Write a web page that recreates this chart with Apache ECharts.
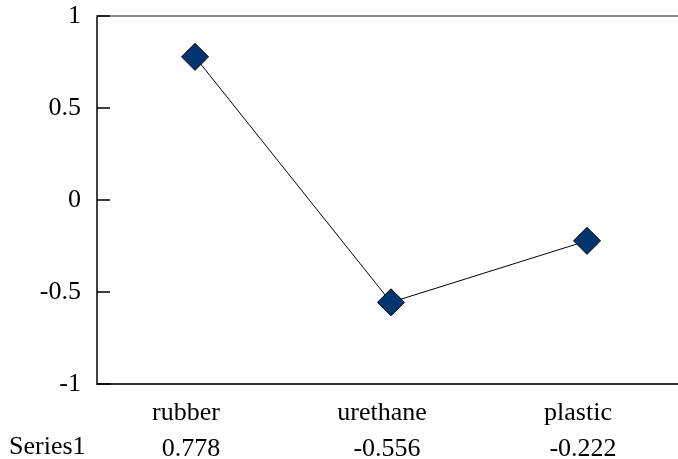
<!DOCTYPE html>
<html>
<head>
<meta charset="utf-8">
<script src="https://cdn.jsdelivr.net/npm/echarts@6/dist/echarts.min.js"></script>
<style>
  html, body { margin: 0; padding: 0; background: #ffffff; }
  #chart { width: 678px; height: 459px; }
</style>
</head>
<body>
<div id="chart"></div>
<script>
// Categories, the single series and the y-axis scale
const categories = ['rubber', 'urethane', 'plastic'];
const seriesName = 'Series1';
const seriesValues = [0.778, -0.556, -0.222];
const yMin = -1;
const yMax = 1;
const yStep = 0.5;

const FONT = '"Liberation Serif", "Times New Roman", serif';
const FS = 26;

// Value row under the category labels (data table)
const valueLabels = seriesValues.map(v => String(v));

const chart = echarts.init(document.getElementById('chart'), null, { renderer: 'canvas' });

chart.setOption({
  animation: false,
  backgroundColor: '#ffffff',
  grid: {
    left: 97, width: 588, top: 16, bottom: 75,
    containLabel: false,
    outerBoundsMode: 'none'
  },
  xAxis: [
    {
      type: 'category',
      data: categories,
      position: 'bottom',
      boundaryGap: true,
      axisLine: { show: true, onZero: false, lineStyle: { color: '#333333', width: 2 } },
      axisTick: { show: false },
      axisLabel: {
        show: true, margin: 16, color: '#000000',
        fontFamily: FONT, fontSize: FS,
        padding: [0, 18, 0, 0]
      },
      splitLine: { show: false }
    },
    {
      type: 'category',
      data: valueLabels,
      position: 'bottom',
      offset: 36,
      boundaryGap: true,
      axisLine: { show: false, onZero: false },
      axisTick: { show: false },
      axisLabel: {
        show: true, margin: 16, color: '#000000',
        fontFamily: FONT, fontSize: FS,
        padding: [0, 8, 0, 0]
      },
      splitLine: { show: false }
    },
    {
      type: 'category',
      data: categories,
      position: 'top',
      boundaryGap: true,
      axisLine: { show: true, onZero: false, lineStyle: { color: '#8a8a8a', width: 2 } },
      axisTick: { show: false },
      axisLabel: { show: false },
      splitLine: { show: false }
    }
  ],
  yAxis: {
    type: 'value',
    min: yMin,
    max: yMax,
    interval: yStep,
    axisLine: { show: true, lineStyle: { color: '#000000', width: 1.5 } },
    axisTick: { show: true, inside: true, length: 13, lineStyle: { color: '#000000', width: 1.5 } },
    axisLabel: {
      show: true, margin: 16, color: '#000000',
      fontFamily: FONT, fontSize: FS
    },
    splitLine: { show: false }
  },
  graphic: [
    {
      type: 'text',
      left: 9,
      top: 434,
      style: {
        text: seriesName,
        fill: '#000000',
        font: FS + 'px ' + FONT
      }
    }
  ],
  series: [
    {
      name: seriesName,
      type: 'line',
      xAxisIndex: 0,
      data: seriesValues,
      symbol: 'diamond',
      symbolSize: 27,
      lineStyle: { color: '#000000', width: 1 },
      itemStyle: { color: '#003570', borderColor: '#000000', borderWidth: 1 },
      z: 3
    }
  ]
});
</script>
</body>
</html>
